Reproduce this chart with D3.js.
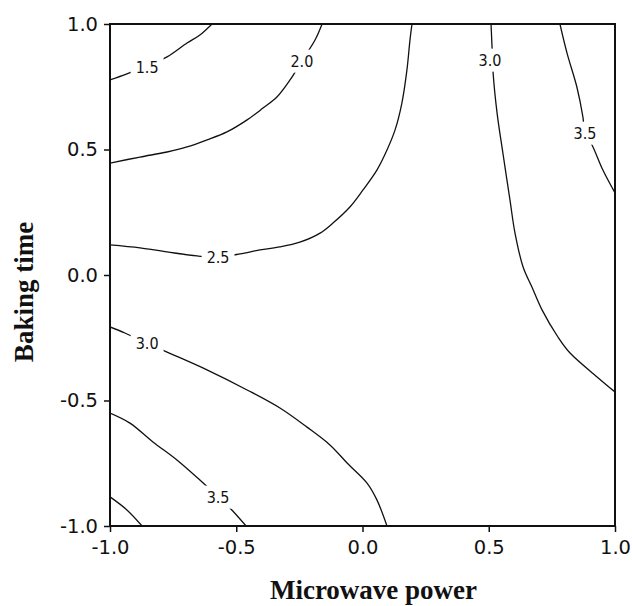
<!DOCTYPE html>
<html>
<head>
<meta charset="utf-8">
<script src="https://cdnjs.cloudflare.com/ajax/libs/d3/7.8.5/d3.min.js"></script>
<style>
  body { margin: 0; background: #fff; }
  .tick-label { font-family: "DejaVu Sans", Verdana, sans-serif; font-size: 19.5px; fill: #111; }
  .axis-title { font-family: "Liberation Serif", "Times New Roman", serif; font-weight: bold; font-size: 27px; fill: #111; }
  .c-label { font-family: "DejaVu Sans Condensed", "DejaVu Sans", sans-serif; font-size: 16px; fill: #111; }
</style>
</head>
<body>
<svg id="chart"></svg>
<script>
var svgWidth = 632, svgHeight = 606;
var margin = {left: 110, top: 24, right: 17, bottom: 80};

// axis ticks
var xTicks = [-1.0, -0.5, 0.0, 0.5, 1.0];
var yTicks = [-1.0, -0.5, 0.0, 0.5, 1.0];

// contour lines as [microwave power, baking time]
var contour15 = [[-1,0.777],[-0.933,0.801],[-0.853,0.835],[-0.774,0.869],[-0.695,0.924],[-0.644,0.956],[-0.596,1]];
var contour20 = [[-1,0.446],[-0.881,0.470],[-0.774,0.490],[-0.695,0.510],[-0.616,0.538],[-0.537,0.570],[-0.457,0.618],
                 [-0.394,0.665],[-0.339,0.709],[-0.287,0.777],[-0.240,0.853],[-0.188,0.936],[-0.160,1]];
var contour25 = [[-1,0.120],[-0.881,0.108],[-0.774,0.092],[-0.655,0.076],[-0.572,0.072],[-0.485,0.084],[-0.406,0.100],
                 [-0.327,0.112],[-0.248,0.131],[-0.168,0.167],[-0.117,0.207],[-0.050,0.271],[0.002,0.339],[0.057,0.418],
                 [0.097,0.498],[0.129,0.578],[0.156,0.685],[0.176,0.817],[0.188,0.936],[0.196,1]];
var contour30a = [[0.509,1],[0.513,0.908],[0.517,0.809],[0.533,0.645],[0.556,0.486],[0.584,0.299],[0.604,0.167],
                  [0.636,0.032],[0.671,-0.048],[0.711,-0.139],[0.774,-0.247],[0.822,-0.311],[0.929,-0.406],[1,-0.466]];
var contour35a = [[0.782,1],[0.810,0.884],[0.849,0.749],[0.873,0.629],[0.881,0.566],[0.909,0.518],[0.952,0.418],[1,0.327]];
var contour30b = [[-1,-0.207],[-0.941,-0.231],[-0.853,-0.271],[-0.774,-0.307],[-0.616,-0.378],[-0.457,-0.458],
                  [-0.327,-0.530],[-0.220,-0.606],[-0.129,-0.677],[-0.061,-0.749],[0.018,-0.829],[0.057,-0.896],[0.097,-1]];
var contour35b = [[-1,-0.550],[-0.921,-0.590],[-0.830,-0.665],[-0.735,-0.737],[-0.644,-0.817],[-0.572,-0.884],[-0.525,-0.928],[-0.461,-1]];
var contour40 = [[-1,-0.884],[-0.933,-0.936],[-0.873,-1]];

// contour labels
var labelText = ["1.5", "2.0", "2.5", "3.0", "3.5", "3.0", "3.5"];
var labelX = [-0.853, -0.240, -0.572, 0.505, 0.881, -0.853, -0.572];
var labelY = [0.829, 0.853, 0.072, 0.857, 0.566, -0.271, -0.884];

var width = svgWidth - margin.left - margin.right;
var height = svgHeight - margin.top - margin.bottom;

var svg = d3.select("svg#chart")
  .attr("width", svgWidth)
  .attr("height", svgHeight)
  .append("g")
  .attr("transform", "translate(" + margin.left + "," + margin.top + ")");

var x = d3.scaleLinear().domain([-1, 1]).range([0, width]);
var y = d3.scaleLinear().domain([-1, 1]).range([height, 0]);

svg.append("clipPath").attr("id", "plot-clip")
  .append("rect").attr("width", width).attr("height", height);

// contour lines
var line = d3.line()
  .x(function(d) { return x(d[0]); })
  .y(function(d) { return y(d[1]); })
  .curve(d3.curveCatmullRom);

var contours = [contour15, contour20, contour25, contour30a, contour35a, contour30b, contour35b, contour40];

svg.append("g")
  .attr("clip-path", "url(#plot-clip)")
  .selectAll("path")
  .data(contours)
  .enter().append("path")
  .attr("d", line)
  .style("fill", "none")
  .style("stroke", "#111")
  .style("stroke-width", "1.3px");

// labels sit on a white patch that breaks the line
var labels = svg.append("g").selectAll("g")
  .data(labelText)
  .enter().append("g")
  .attr("transform", function(d, i) { return "translate(" + x(labelX[i]) + "," + y(labelY[i]) + ")"; });

labels.append("rect").style("fill", "#fff");
labels.append("text")
  .attr("class", "c-label")
  .attr("text-anchor", "middle")
  .attr("dy", "0.36em")
  .text(function(d) { return d; });

labels.each(function() {
  var g = d3.select(this);
  var bb = g.select("text").node().getBBox();
  g.select("rect")
    .attr("x", bb.x - 5)
    .attr("y", bb.y - 2)
    .attr("width", bb.width + 10)
    .attr("height", bb.height + 4);
});

// axes, with a plain hyphen for the minus sign
var fmt = function(d) { return d3.format(".1f")(d).replace("\u2212", "-"); };
var xAxis = d3.axisBottom(x).tickValues(xTicks).tickFormat(fmt).tickSize(6).tickSizeOuter(0);
var yAxis = d3.axisLeft(y).tickValues(yTicks).tickFormat(fmt).tickSize(6).tickSizeOuter(0);

var gx = svg.append("g")
  .attr("transform", "translate(0," + height + ")")
  .call(xAxis);
var gy = svg.append("g").call(yAxis);

[gx, gy].forEach(function(g) {
  g.select(".domain").remove();
  g.selectAll(".tick line").style("stroke", "#111").style("stroke-width", "1.5px");
  g.selectAll(".tick text").attr("class", "tick-label").style("font-family", null).style("font-size", null);
});
gx.selectAll(".tick text").attr("y", 14);
gy.selectAll(".tick text").attr("x", -12);

// frame
svg.append("rect")
  .attr("width", width)
  .attr("height", height)
  .style("fill", "none")
  .style("stroke", "#111")
  .style("stroke-width", "2px");

// axis titles
svg.append("text")
  .attr("class", "axis-title")
  .attr("text-anchor", "middle")
  .attr("x", width / 2 + 11)
  .attr("y", height + 73)
  .text("Microwave power");

svg.append("text")
  .attr("class", "axis-title")
  .attr("text-anchor", "middle")
  .attr("transform", "translate(" + (-77) + "," + (height / 2 + 17) + ") rotate(-90)")
  .text("Baking time");
</script>
</body>
</html>
